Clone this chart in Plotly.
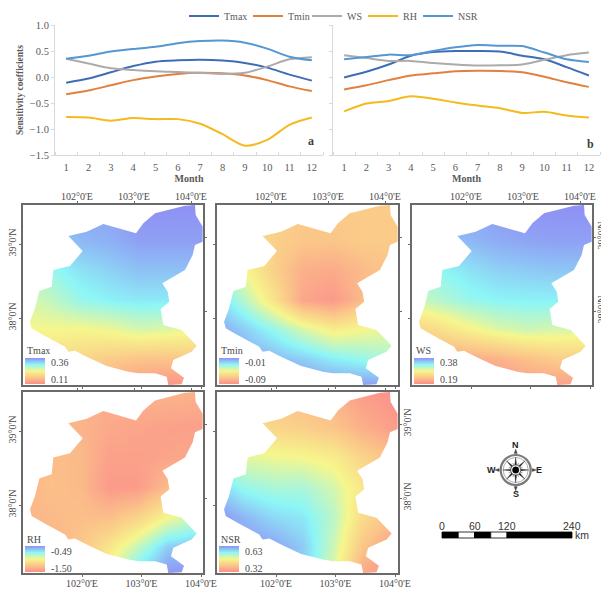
import numpy as np
import plotly.graph_objects as go

W, H = 601, 590

# ---------- line chart data ----------
months = list(range(1, 13))
a_tmax = [-0.11, -0.03, 0.09, 0.21, 0.295, 0.32, 0.33, 0.315, 0.27, 0.18, 0.045, -0.07]
a_tmin = [-0.33, -0.26, -0.16, -0.06, 0.01, 0.06, 0.08, 0.07, 0.03, -0.06, -0.18, -0.27]
a_ws = [0.35, 0.26, 0.17, 0.135, 0.11, 0.095, 0.08, 0.06, 0.08, 0.2, 0.34, 0.38]
a_rh = [-0.77, -0.78, -0.84, -0.79, -0.81, -0.81, -0.90, -1.1, -1.32, -1.21, -0.92, -0.78]
a_nsr = [0.35, 0.41, 0.49, 0.54, 0.58, 0.65, 0.69, 0.70, 0.66, 0.545, 0.39, 0.32]

b_tmax = [-0.01, 0.10, 0.24, 0.41, 0.48, 0.50, 0.50, 0.49, 0.41, 0.34, 0.19, 0.03]
b_tmin = [-0.24, -0.16, -0.06, 0.03, 0.07, 0.11, 0.12, 0.115, 0.09, 0.006, -0.10, -0.19]
b_ws = [0.42, 0.365, 0.31, 0.31, 0.27, 0.24, 0.22, 0.225, 0.24, 0.33, 0.42, 0.47]
b_rh = [-0.66, -0.51, -0.46, -0.37, -0.42, -0.49, -0.55, -0.60, -0.69, -0.67, -0.74, -0.78]
b_nsr = [0.34, 0.385, 0.43, 0.42, 0.50, 0.57, 0.615, 0.60, 0.595, 0.47, 0.34, 0.29]

series_names = ["Tmax", "Tmin", "WS", "RH", "NSR"]
series_colors = ["#3F6DB5", "#E2803F", "#ABABAB", "#F4BA1E", "#5597D2"]
legend_text_px = [224, 288, 347, 403, 458]

# ---------- map data ----------
grid_lon = [101.0, 101.5, 102.0, 102.5, 103.0, 103.5, 104.15]
grid_lat = [37.0, 37.4, 37.8, 38.2, 38.6, 39.0, 39.5]

tmax_grid = [
    [.185, .16, .15, .135, .12, .11, .11],
    [.21, .20, .19, .18, .17, .17, .18],
    [.235, .235, .235, .24, .255, .25, .235],
    [.25, .265, .29, .30, .305, .305, .30],
    [.27, .29, .31, .32, .33, .33, .33],
    [.305, .32, .335, .34, .35, .35, .35],
    [.32, .335, .35, .35, .36, .36, .36],
]
tmin_grid = [
    [-.01, -.01, -.01, -.01, -.01, -.01, -.01],
    [-.01, -.014, -.018, -.022, -.028, -.032, -.038],
    [-.014, -.022, -.032, -.044, -.054, -.05, -.046],
    [-.022, -.038, -.058, -.082, -.086, -.074, -.066],
    [-.034, -.05, -.066, -.078, -.08, -.074, -.068],
    [-.046, -.058, -.066, -.07, -.07, -.068, -.068],
    [-.054, -.062, -.066, -.068, -.068, -.068, -.068],
]
ws_grid = [
    [.19, .19, .194, .196, .20, .20, .205],
    [.21, .21, .213, .22, .232, .243, .247],
    [.247, .262, .281, .296, .304, .30, .295],
    [.30, .314, .327, .333, .334, .334, .334],
    [.319, .331, .342, .35, .353, .355, .355],
    [.346, .357, .361, .367, .37, .372, .372],
    [.361, .367, .372, .376, .38, .38, .38],
]
rh_grid = [
    [-1.35, -1.30, -1.20, -.94, -.64, -.49, -.49],
    [-1.35, -1.33, -1.25, -1.08, -.87, -.64, -.59],
    [-1.33, -1.30, -1.28, -1.28, -1.18, -1.0, -.84],
    [-1.32, -1.28, -1.30, -1.45, -1.44, -1.30, -1.20],
    [-1.33, -1.28, -1.30, -1.42, -1.42, -1.40, -1.38],
    [-1.35, -1.30, -1.33, -1.38, -1.40, -1.42, -1.42],
    [-1.37, -1.32, -1.33, -1.36, -1.34, -1.32, -1.35],
]
nsr_grid = [
    [.60, .615, .615, .585, .49, .35, .32],
    [.615, .624, .615, .585, .506, .398, .33],
    [.63, .60, .574, .562, .52, .432, .376],
    [.585, .543, .53, .53, .50, .45, .413],
    [.506, .49, .48, .475, .46, .42, .382],
    [.45, .438, .422, .413, .398, .367, .336],
    [.413, .407, .398, .382, .367, .336, .32],
]

map_names = ["Tmax", "Tmin", "WS", "RH", "NSR"]
map_grids = [tmax_grid, tmin_grid, ws_grid, rh_grid, nsr_grid]
map_high = [0.36, -0.01, 0.38, -0.49, 0.63]
map_low = [0.11, -0.09, 0.19, -1.50, 0.32]
map_high_text = ["0.36", "-0.01", "0.38", "-0.49", "0.63"]
map_low_text = ["0.11", "-0.09", "0.19", "-1.50", "0.32"]

outline_lon = [103.803, 103.974, 103.986, 104.105, 104.105, 103.974, 103.934, 103.803, 103.416,
               103.507, 103.536, 103.387, 103.433, 103.746, 104.003, 103.917, 103.604, 103.564,
               103.786, 103.746, 103.519, 103.490, 103.291, 103.006, 102.835, 102.464, 102.123,
               101.923, 101.809, 101.752, 101.382, 101.182, 101.154, 101.239, 101.313, 101.524,
               101.553, 101.838, 102.054, 101.809, 102.123, 102.407, 102.966, 103.091, 103.291,
               103.604]
outline_lat = [39.471, 39.480, 39.345, 39.187, 38.984, 38.939, 38.804, 38.601, 38.421,
               38.309, 38.173, 38.074, 37.858, 37.791, 37.579, 37.498, 37.385, 37.273,
               37.146, 37.056, 37.047, 37.160, 37.205, 37.205, 37.227, 37.304, 37.430,
               37.511, 37.498, 37.565, 37.723, 37.813, 37.903, 38.083, 38.318, 38.376,
               38.601, 38.655, 38.858, 39.061, 39.119, 39.223, 39.097, 39.232, 39.367,
               39.426]

scale_km = [0, 30, 60, 90, 120, 240]
scale_labels = [0, 60, 120, 240]

# ---------- layout helpers ----------
def X(p):
    return p / W

def Y(p):
    return 1 - p / H

def edge_range(pos_a, val_a, pos_b, val_b, length):
    k = (val_b - val_a) / (pos_b - pos_a)
    return [val_a + (0 - pos_a) * k, val_a + (length - pos_a) * k]

SERIF = "Liberation Serif"
SANS = "Liberation Sans"
INK = "#4a4a4a"
FRAME = "#6a6a6a"
colorscale = [[0, "#FB8F8B"], [0.25, "#FBC689"], [0.5, "#F6F68C"], [0.75, "#8DF6F6"], [1, "#8F90F4"]]

fig = go.Figure()
layout = {}
annotations = []
shapes = []

def note(text, px, py, font, xanchor="center"):
    annotations.append(dict(text=text, x=X(px), y=Y(py), xref="paper", yref="paper", xanchor=xanchor,
                            yanchor="middle", showarrow=False, font=font))

# ---------- line panels ----------
line_panels = [
    (55, 323, [a_tmax, a_tmin, a_ws, a_rh, a_nsr], "x", "y", True, "a", 311, 141),
    (333, 600, [b_tmax, b_tmin, b_ws, b_rh, b_nsr], "x2", "y2", False, "b", 590, 144),
]
for left, right, rows, xa, ya, is_first, tag, tag_x, tag_y in line_panels:
    for k, (name, color, vals) in enumerate(zip(series_names, series_colors, rows)):
        fig.add_trace(go.Scatter(x=months, y=vals, mode="lines", name=name, xaxis=xa, yaxis=ya,
                                 line=dict(color=color, width=2, shape="spline", smoothing=0.8),
                                 legend="legend" if k == 0 else f"legend{k + 1}",
                                 showlegend=is_first, hoverinfo="skip"))
    xkey = "xaxis" if xa == "x" else "xaxis2"
    ykey = "yaxis" if ya == "y" else "yaxis2"
    layout[xkey] = dict(domain=[X(left), X(right)], anchor=ya, range=[0.5, 12.5], tickvals=months,
                        ticks="", showline=True, linecolor="#D9D9D9", linewidth=1, showgrid=False,
                        zeroline=False, ticklabelstandoff=2,
                        tickfont=dict(family=SERIF, size=10.5, color="#595959"),
                        title=dict(text="<b>Month</b>", font=dict(family=SERIF, size=10, color="#595959"), standoff=1),
                        minor=dict(tickvals=[m + 0.5 for m in range(0, 13)], ticks="inside", ticklen=3,
                                   tickcolor="#D9D9D9", tickwidth=1))
    layout[ykey] = dict(domain=[Y(155), Y(25)], anchor=xa, range=[-1.5, 1.0], tick0=-1.5, dtick=0.5,
                        tickformat=".1f", ticks="outside", ticklen=3, tickcolor="#D9D9D9",
                        showline=True, linecolor="#D9D9D9", linewidth=1, showgrid=False, zeroline=False,
                        showticklabels=is_first,
                        tickfont=dict(family=SERIF, size=10.5, color="#595959"))
    if is_first:
        layout[ykey]["title"] = dict(text="<b>Sensitivity coefficients</b>",
                                     font=dict(family=SERIF, size=9.5, color="#595959"), standoff=4)
    note(f"<b>{tag}</b>", tag_x, tag_y, dict(family=SERIF, size=12, color="#404040"))

# one legend box per series so each entry sits where the reference has it
for k, text_px in enumerate(legend_text_px):
    key = "legend" if k == 0 else f"legend{k + 1}"
    layout[key] = dict(orientation="h", x=X(text_px - 40), xanchor="left", y=Y(16), yanchor="middle",
                       bgcolor="rgba(0,0,0,0)", font=dict(family=SERIF, size=10, color="#595959"))

# ---------- map panels ----------
frames = [(23, 203, 205, 385), (217, 398, 205, 385), (412, 592, 205, 385),
          (23, 203, 392, 573), (217, 398, 392, 573)]
label_sides = [("top", "left"), ("top", None), ("top", "right"), ("bottom", "left"), ("bottom", "right")]
LON_RANGE = [101.034, 104.111]
LAT_RANGE = [37.047, 39.48]
lon_ticks = [101, 102, 103, 104]
lat_ticks = [38, 39]
label_standoff = {"top": -3, "bottom": -2, "left": -1, "right": -3}
ax_no = 3

def lon_text(v):
    return f"{v}°0'E"

def lat_text(v):
    return f"{v}°0'N"

mask_x = [LON_RANGE[1], LON_RANGE[0], LON_RANGE[0], LON_RANGE[1], LON_RANGE[1]] + outline_lon + [outline_lon[0], LON_RANGE[1]]
mask_y = [LAT_RANGE[1], LAT_RANGE[1], LAT_RANGE[0], LAT_RANGE[0], LAT_RANGE[1]] + outline_lat + [outline_lat[0], LAT_RANGE[1]]

tick_font = dict(family=SERIF, size=10, color=INK)
label_font = dict(family=SERIF, size=10, color=INK)
for i, (l, r, t, b) in enumerate(frames):
    wpx, hpx = r - l, b - t
    nx = ax_no
    ax_no += 1
    xa, ya = f"x{nx}", f"y{nx}"
    fig.add_trace(go.Heatmap(
        x=grid_lon, y=grid_lat, z=map_grids[i], xaxis=xa, yaxis=ya, zsmooth="best",
        zmin=map_low[i], zmax=map_high[i], colorscale=colorscale, hoverinfo="skip",
        colorbar=dict(x=X(l + 2), xanchor="left", xpad=0, ypad=0, y=Y(b - 1), yanchor="bottom",
                      thickness=20, thicknessmode="pixels", len=26, lenmode="pixels",
                      outlinewidth=0, showticklabels=False, ticks="")))
    fig.add_trace(go.Scatter(x=mask_x, y=mask_y, mode="lines", fill="toself", fillcolor="white",
                             line=dict(width=0, color="white"), xaxis=xa, yaxis=ya,
                             showlegend=False, hoverinfo="skip"))
    dom_x = [X(l), X(r)]
    dom_y = [Y(b), Y(t)]
    layout[f"xaxis{nx}"] = dict(domain=dom_x, anchor=ya, range=LON_RANGE, showgrid=False, zeroline=False,
                                showticklabels=False, ticks="", showline=True, mirror=True,
                                linecolor=FRAME, linewidth=1.6)
    layout[f"yaxis{nx}"] = dict(domain=dom_y, anchor=xa, range=LAT_RANGE, showgrid=False, zeroline=False,
                                showticklabels=False, ticks="", showline=True, mirror=True,
                                linecolor=FRAME, linewidth=1.6)

    # graticule ticks: the projection makes opposite edges disagree
    top_side, lat_side = label_sides[i]
    edge_specs = [
        ("x", "top", edge_range(54, 102, 168, 104, wpx), lon_ticks[1:], lon_text, top_side == "top"),
        ("x", "bottom", edge_range(59, 102, 178, 104, wpx), lon_ticks, lon_text, top_side == "bottom"),
        ("y", "left", edge_range(39, 39, 113, 38, hpx)[::-1], lat_ticks, lat_text, lat_side == "left"),
        ("y", "right", edge_range(32, 39, 106, 38, hpx)[::-1], lat_ticks, lat_text, lat_side == "right"),
    ]
    for kind, side, rng, vals, fmt, show in edge_specs:
        n = ax_no
        ax_no += 1
        common = dict(domain=dom_x if kind == "x" else dom_y, side=side, range=rng,
                      tickvals=vals, ticktext=[fmt(v) for v in vals], ticks="outside", ticklen=3,
                      tickwidth=1, tickcolor=FRAME, showgrid=False, zeroline=False, showline=False,
                      showticklabels=show, tickfont=tick_font, ticklabelstandoff=label_standoff[side])
        if kind == "x":
            layout[f"xaxis{n}"] = dict(common, overlaying=xa, anchor=ya, tickangle=0)
            fig.add_trace(go.Scatter(x=[], y=[], xaxis=f"x{n}", yaxis=ya, showlegend=False, hoverinfo="skip"))
        else:
            layout[f"yaxis{n}"] = dict(common, overlaying=ya, anchor=xa, tickangle=-90)
            fig.add_trace(go.Scatter(x=[], y=[], xaxis=xa, yaxis=f"y{n}", showlegend=False, hoverinfo="skip"))

    # legend text
    note(map_names[i], l + 2, t + (145 if i < 3 else 147), label_font, "left")
    note(map_high_text[i], l + 26, t + (157 if i < 3 else 159), label_font, "left")
    note(map_low_text[i], l + 26, t + (174 if i < 3 else 176), label_font, "left")

# ---------- scale bar ----------
BAR_L, BAR_R, BAR_T, BAR_B = 442, 572, 532, 538
km_px = lambda km: BAR_L + km * (BAR_R - BAR_L) / 240
scale_font = dict(family=SANS, size=10.5, color="#333333")
for k in range(len(scale_km) - 1):
    shapes.append(dict(type="rect", xref="paper", yref="paper",
                       x0=X(km_px(scale_km[k])), x1=X(km_px(scale_km[k + 1])), y0=Y(BAR_B), y1=Y(BAR_T),
                       fillcolor="black" if k % 2 == 0 else "white", line=dict(color="black", width=0.8)))
for km in scale_labels:
    note(str(km), km_px(km), 526, scale_font)
note("km", 582, 535, scale_font)

# ---------- compass ----------
CX, CY = 515.7, 470

def poly(pts):
    return "M" + " L".join(f"{X(p[0]):.5f},{Y(p[1]):.5f}" for p in pts) + " Z"

def circle(r, fill, line_color, width):
    shapes.append(dict(type="circle", xref="paper", yref="paper", x0=X(CX - r), x1=X(CX + r),
                       y0=Y(CY + r), y1=Y(CY - r), fillcolor=fill, line=dict(color=line_color, width=width)))

circle(15, "white", "#7a7a7a", 2.2)
circle(12.5, "white", "#9a9a9a", 0.8)
for k in range(16):
    ang = k * np.pi / 8
    long_pt = k % 2 == 0
    rr = 13 if long_pt else 7.5
    wid = 1.5 if long_pt else 0.7
    tip = (CX + rr * np.sin(ang), CY - rr * np.cos(ang))
    c1 = (CX + wid * np.cos(ang), CY + wid * np.sin(ang))
    c2 = (CX - wid * np.cos(ang), CY - wid * np.sin(ang))
    color = "#222222" if long_pt else "#666666"
    shapes.append(dict(type="path", xref="paper", yref="paper", path=poly([c1, tip, c2]),
                       fillcolor=color, line=dict(color=color, width=0.3)))
for k in range(4):
    ang = k * np.pi / 2
    tip = (CX + 21 * np.sin(ang), CY - 21 * np.cos(ang))
    base = 16.5
    c0 = (CX + base * np.sin(ang), CY - base * np.cos(ang))
    c1 = (c0[0] + 1.6 * np.cos(ang), c0[1] + 1.6 * np.sin(ang))
    c2 = (c0[0] - 1.6 * np.cos(ang), c0[1] - 1.6 * np.sin(ang))
    shapes.append(dict(type="path", xref="paper", yref="paper", path=poly([c1, tip, c2]),
                       fillcolor="#444444", line=dict(color="#444444", width=0.3)))
circle(5, "white", "#555555", 0.8)
circle(3.2, "black", "black", 0.5)
compass_font = dict(family=SANS, size=9, color="#222222")
for txt, px, py in [("N", 515.7, 445), ("S", 515.7, 494), ("W", 491, 470), ("E", 538.5, 470)]:
    note(f"<b>{txt}</b>", px, py, compass_font)

fig.update_layout(
    width=W, height=H, margin=dict(l=0, r=0, t=0, b=0, autoexpand=False),
    paper_bgcolor="white", plot_bgcolor="white", showlegend=True,
    annotations=annotations, shapes=shapes, **layout)

fig.write_html("out.html", config=dict(displayModeBar=False),
               post_script="document.body.style.margin='0';document.body.style.overflow='hidden';")
